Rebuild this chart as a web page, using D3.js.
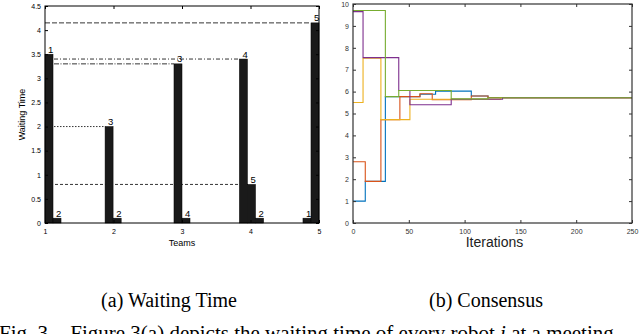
<!DOCTYPE html>
<html>
<head>
<meta charset="utf-8">
<script src="https://cdn.jsdelivr.net/npm/d3@7"></script>
<style>
  body { margin: 0; background: #fff; }
  text { font-family: "Liberation Sans", Arial, sans-serif; }
  .cap { font-family: "Liberation Serif", "Times New Roman", serif; }
</style>
</head>
<body>
<div id="fig"></div>
<script>
/* DATA - (a) waiting time */
const teamTicks = [1, 2, 3, 4, 5];
const waitTicks = [0, 0.5, 1, 1.5, 2, 2.5, 3, 3.5, 4, 4.5];
// left edge of every bar, in team units
const barStart = [1.0, 1.117, 1.877, 1.995, 2.883, 3.0, 3.838, 3.956, 4.074, 4.766, 4.883];
const barValue = [3.5, 0.1, 2.0, 0.1, 3.3, 0.1, 3.4, 0.8, 0.1, 0.1, 4.15];
const barLabel = ["1", "2", "3", "2", "3", "4", "4", "5", "2", "1", "5"];
const barWidth = 0.117;
// reference lines: which bar each one runs to
const refBar = [10, 6, 4, 2, 7];

/* DATA - (b) consensus */
const iterTicks = [0, 50, 100, 150, 200, 250];
const consTicks = [0, 1, 2, 3, 4, 5, 6, 7, 8, 9, 10];
const blueIter = [0, 11, 29, 60, 74, 106, 121, 250];
const blueVal = [1.0, 1.9, 5.77, 5.88, 6.02, 5.8, 5.72, 5.72];
const orangeIter = [0, 11, 25, 42, 60, 71, 106, 121, 250];
const orangeVal = [2.8, 1.9, 4.72, 5.77, 5.9, 5.63, 5.8, 5.72, 5.72];
const yellowIter = [0, 9, 25, 51, 132, 250];
const yellowVal = [5.5, 7.52, 4.72, 5.65, 5.72, 5.72];
const purpleIter = [0, 9, 41, 51, 88, 134, 250];
const purpleVal = [9.65, 7.55, 6.05, 5.4, 5.65, 5.72, 5.72];
const greenIter = [0, 29, 41, 88, 121, 250];
const greenVal = [9.7, 5.77, 6.05, 5.67, 5.72, 5.72];

const series = [
  { iter: blueIter, val: blueVal, color: "#0072BD" },
  { iter: orangeIter, val: orangeVal, color: "#D95319" },
  { iter: yellowIter, val: yellowVal, color: "#EDB120" },
  { iter: purpleIter, val: purpleVal, color: "#7E2F8E" },
  { iter: greenIter, val: greenVal, color: "#77AC30" }
];

const svg = d3.select("#fig").append("svg")
  .attr("width", 640)
  .attr("height", 334);

/* ---------- (a) Waiting Time ---------- */
const xa = d3.scaleLinear().domain([1, 5]).range([45, 319]);
const ya = d3.scaleLinear().domain([0, 4.5]).range([223, 6]);
const ga = svg.append("g");

const refDash = ["5,2", "4,2,1,2", "5,1.5,1,1.5", "1.5,1.5", "3,2"];
ga.selectAll("line.ref")
  .data(refBar)
  .join("line")
  .attr("class", "ref")
  .attr("x1", xa(1))
  .attr("x2", d => xa(barStart[d]))
  .attr("y1", d => ya(barValue[d]))
  .attr("y2", d => ya(barValue[d]))
  .attr("stroke", "#000")
  .attr("stroke-width", 0.8)
  .attr("stroke-dasharray", (d, i) => refDash[i]);

ga.selectAll("rect.bar")
  .data(barValue)
  .join("rect")
  .attr("class", "bar")
  .attr("x", (d, i) => xa(barStart[i]))
  .attr("width", xa(1 + barWidth) - xa(1))
  .attr("y", d => ya(d))
  .attr("height", d => ya(0) - ya(d))
  .attr("fill", "#1a1a1a")
  .attr("stroke", "#000")
  .attr("stroke-width", 0.5);

ga.selectAll("text.blab")
  .data(barLabel)
  .join("text")
  .attr("class", "blab")
  .attr("x", (d, i) => xa(barStart[i]) + 3)
  .attr("y", (d, i) => ya(barValue[i]) - 1.5)
  .attr("font-size", 9.5)
  .text(d => d);

function styleAxis(g, col) {
  g.select(".domain").remove();
  g.selectAll("line").attr("stroke", col);
  g.selectAll("text").attr("fill", col).attr("font-size", 7);
}

ga.append("g").attr("transform", `translate(${xa(1)},0)`)
  .call(d3.axisLeft(ya).tickValues(waitTicks).tickSize(-3).tickPadding(4).tickFormat(d => String(d)))
  .call(g => styleAxis(g, "#000"));
ga.append("g").attr("transform", `translate(${xa(5)},0)`)
  .call(d3.axisRight(ya).tickValues(waitTicks).tickSize(-3).tickFormat(""))
  .call(g => styleAxis(g, "#000"));
ga.append("g").attr("transform", `translate(0,${ya(0)})`)
  .call(d3.axisBottom(xa).tickValues(teamTicks).tickSize(-3).tickPadding(6).tickFormat(d3.format("d")))
  .call(g => styleAxis(g, "#000"));
ga.append("g").attr("transform", `translate(0,${ya(4.5)})`)
  .call(d3.axisTop(xa).tickValues(teamTicks).tickSize(-3).tickFormat(""))
  .call(g => styleAxis(g, "#000"));

ga.append("rect")
  .attr("x", xa(1)).attr("y", ya(4.5))
  .attr("width", xa(5) - xa(1)).attr("height", ya(0) - ya(4.5))
  .attr("fill", "none").attr("stroke", "#000").attr("stroke-width", 1);

ga.append("text")
  .attr("x", (xa(1) + xa(5)) / 2).attr("y", 246)
  .attr("text-anchor", "middle").attr("font-size", 9)
  .text("Teams");
ga.append("text")
  .attr("transform", `translate(25,${(ya(0) + ya(4.5)) / 2}) rotate(-90)`)
  .attr("text-anchor", "middle").attr("font-size", 9)
  .text("Waiting Time");

/* ---------- (b) Consensus ---------- */
const xb = d3.scaleLinear().domain([0, 250]).range([353, 632]);
const yb = d3.scaleLinear().domain([0, 10]).range([223, 4]);
const gb = svg.append("g");
const axCol = "#333";

const line = d3.line()
  .x(d => xb(d[0]))
  .y(d => yb(d[1]))
  .curve(d3.curveStepAfter);

gb.selectAll("path.cons")
  .data(series)
  .join("path")
  .attr("class", "cons")
  .attr("d", s => line(s.iter.map((t, i) => [t, s.val[i]])))
  .attr("fill", "none")
  .attr("stroke", s => s.color)
  .attr("stroke-width", 1.1);

gb.append("g").attr("transform", `translate(${xb(0)},0)`)
  .call(d3.axisLeft(yb).tickValues(consTicks).tickSize(-3).tickPadding(4))
  .call(g => styleAxis(g, axCol));
gb.append("g").attr("transform", `translate(${xb(250)},0)`)
  .call(d3.axisRight(yb).tickValues(consTicks).tickSize(-3).tickFormat(""))
  .call(g => styleAxis(g, axCol));
gb.append("g").attr("transform", `translate(0,${yb(0)})`)
  .call(d3.axisBottom(xb).tickValues(iterTicks).tickSize(-3).tickPadding(6))
  .call(g => styleAxis(g, axCol));
gb.append("g").attr("transform", `translate(0,${yb(10)})`)
  .call(d3.axisTop(xb).tickValues(iterTicks).tickSize(-3).tickFormat(""))
  .call(g => styleAxis(g, axCol));

gb.append("rect")
  .attr("x", xb(0)).attr("y", yb(10))
  .attr("width", xb(250) - xb(0)).attr("height", yb(0) - yb(10))
  .attr("fill", "none").attr("stroke", axCol).attr("stroke-width", 1.2);

gb.append("text")
  .attr("x", (xb(0) + xb(250)) / 2 + 2).attr("y", 247)
  .attr("text-anchor", "middle").attr("font-size", 14)
  .attr("fill", "#222")
  .text("Iterations");

/* ---------- captions ---------- */
svg.append("text").attr("class", "cap")
  .attr("x", 169).attr("y", 307)
  .attr("text-anchor", "middle").attr("font-size", 20)
  .text("(a) Waiting Time");
svg.append("text").attr("class", "cap")
  .attr("x", 486).attr("y", 307)
  .attr("text-anchor", "middle").attr("font-size", 20)
  .text("(b) Consensus");

const figLine = svg.append("text").attr("class", "cap")
  .attr("x", -1).attr("y", 340).attr("font-size", 21);
figLine.append("tspan").text("Fig. 3.");
figLine.append("tspan").attr("dx", 17).text("Figure 3(a) depicts the waiting time of every robot ");
figLine.append("tspan").attr("font-style", "italic").text("i");
figLine.append("tspan").text(" at a meeting");
</script>
</body>
</html>
